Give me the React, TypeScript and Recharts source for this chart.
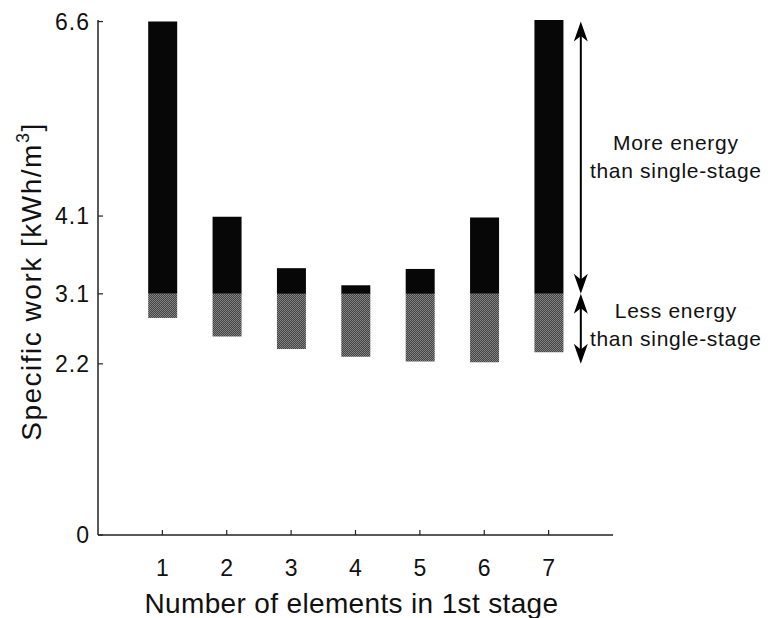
import React from "react";
import {
  BarChart,
  Bar,
  XAxis,
  YAxis,
  ReferenceLine,
} from "recharts";

// elements in the first stage
const stages = [1, 2, 3, 4, 5, 6, 7];
// lowest and highest specific work for each split [kWh/m3]
const lowWork = [2.79, 2.55, 2.39, 2.29, 2.23, 2.22, 2.35];
const highWork = [6.6, 4.09, 3.43, 3.21, 3.42, 4.08, 6.62];
// single-stage reference
const singleStage = 3.1;
const yTicks = [0, 2.2, 3.1, 4.1, 6.6];

const FONT = "'Liberation Sans', Arial, Helvetica, sans-serif";

const data = stages.map((s, i) => ({
  stage: s,
  base: lowWork[i],
  less: singleStage - lowWork[i],
  more: highWork[i] - singleStage,
}));

const YTick = ({ x, y, payload }: any) => (
  <g>
    <line x1={x} y1={y} x2={x + 5} y2={y} stroke="#222" strokeWidth={1.2} />
    <text x={x - 8} y={y + 8} textAnchor="end" fontSize={23} letterSpacing={1} fontFamily={FONT} fill="#111">
      {payload.value}
    </text>
  </g>
);

const XTick = ({ x, y, payload }: any) => (
  <g>
    <line x1={x} y1={y} x2={x} y2={y - 5} stroke="#222" strokeWidth={1.2} />
    <text x={x} y={y + 41} textAnchor="middle" fontSize={23} fontFamily={FONT} fill="#111">
      {payload.value}
    </text>
  </g>
);

const head = (x: number, y: number, dir: number) => {
  // dir = -1 points up, 1 points down
  const l = 20 * dir;
  return (
    <path
      d={`M${x},${y} L${x - 7},${y - l} L${x},${y - l * 0.72} L${x + 7},${y - l} Z`}
      fill="#000"
    />
  );
};

const arrowShape = (lines: string[], baselines: number[]) => (props: any) => {
  const { x1, y1, x2, y2 } = props;
  const top = Math.min(y1, y2);
  const bot = Math.max(y1, y2);
  const mid = (top + bot) / 2;
  return (
    <g>
      <line x1={x1} y1={top + 10} x2={x2} y2={bot - 10} stroke="#000" strokeWidth={2} />
      {head(x1, top, -1)}
      {head(x1, bot, 1)}
      {lines.map((t, i) => (
        <text
          key={i}
          x={x1 + 95}
          y={mid + baselines[i]}
          textAnchor="middle"
          fontSize={21}
          letterSpacing={0.7}
          fontFamily={FONT}
          fill="#111"
        >
          {t}
        </text>
      ))}
    </g>
  );
};

const YTitle = ({ viewBox }: any) => {
  const cx = 41;
  const cy = viewBox.y + viewBox.height / 2 + 4;
  return (
    <text
      x={cx}
      y={cy}
      transform={`rotate(-90, ${cx}, ${cy})`}
      textAnchor="middle"
      fontSize={28}
      letterSpacing={1.5}
      fontFamily={FONT}
      fill="#111"
    >
      Specific work [kWh/m
      <tspan fontSize={18} dy={-12}>3</tspan>
      <tspan dy={12}>]</tspan>
    </text>
  );
};

const XTitle = ({ viewBox }: any) => (
  <text
    x={viewBox.x + viewBox.width / 2 - 4}
    y={viewBox.y + 78}
    textAnchor="middle"
    fontSize={28}
    letterSpacing={0.35}
    fontFamily={FONT}
    fill="#111"
  >
    Number of elements in 1st stage
  </text>
);

export default function App() {
  return (
    <div style={{ position: "absolute", left: 0, top: 0, background: "#fff" }}>
      <BarChart
        width={768}
        height={618}
        data={data}
        margin={{ top: 20, right: 155, bottom: 0, left: 0 }}
      >
        <defs>
          <pattern id="dither" width="2" height="2" patternUnits="userSpaceOnUse">
            <rect width="2" height="2" fill="#444" />
            <rect x="0" y="0" width="1" height="1" fill="#858585" />
            <rect x="1" y="1" width="1" height="1" fill="#7e7e7e" />
          </pattern>
        </defs>
        <XAxis
          dataKey="stage"
          type="number"
          domain={[0, 8]}
          ticks={stages}
          interval={0}
          allowDataOverflow
          height={83}
          tickSize={0}
          tickMargin={0}
          tick={<XTick />}
          axisLine={{ stroke: "#222", strokeWidth: 1.5 }}
          label={<XTitle />}
        />
        <YAxis
          width={98}
          domain={[0, 6.6]}
          ticks={yTicks}
          interval={0}
          tickSize={0}
          tickMargin={0}
          tick={<YTick />}
          axisLine={{ stroke: "#222", strokeWidth: 1.5 }}
          label={<YTitle />}
        />
        <Bar dataKey="base" stackId="w" fill="transparent" barSize={29} isAnimationActive={false} />
        <Bar dataKey="less" stackId="w" fill="url(#dither)" barSize={29} isAnimationActive={false} />
        <Bar dataKey="more" stackId="w" fill="#070707" barSize={29} isAnimationActive={false} />
        <ReferenceLine
          ifOverflow="visible"
          segment={[
            { x: 7.5, y: 6.6 },
            { x: 7.5, y: singleStage },
          ]}
          shape={arrowShape(["More energy", "than single-stage"], [-8, 20])}
        />
        <ReferenceLine
          ifOverflow="visible"
          segment={[
            { x: 7.5, y: singleStage },
            { x: 7.5, y: 2.2 },
          ]}
          shape={arrowShape(["Less energy", "than single-stage"], [-11, 17])}
        />
      </BarChart>
    </div>
  );
}
